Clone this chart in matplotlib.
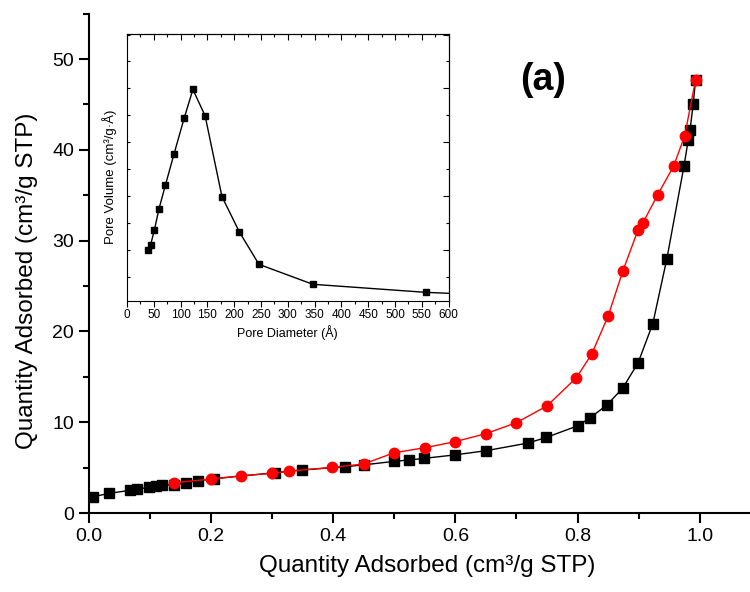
import matplotlib.pyplot as plt
from matplotlib.ticker import MultipleLocator

plt.rcParams['font.family'] = ['Liberation Sans', 'DejaVu Sans']

# adsorption branch (black squares)
adsX = [0.008, 0.034, 0.068, 0.080, 0.099, 0.110, 0.120, 0.140, 0.160, 0.179, 0.206,
        0.305, 0.350, 0.419, 0.450, 0.500, 0.524, 0.549, 0.599, 0.650, 0.719, 0.749,
        0.800, 0.820, 0.848, 0.874, 0.899, 0.923, 0.946, 0.974, 0.981, 0.984, 0.989, 0.993]
adsY = [1.8, 2.17, 2.5, 2.64, 2.83, 2.97, 3.08, 3.1, 3.34, 3.56, 3.78,
        4.44, 4.74, 5.1, 5.3, 5.69, 5.84, 6.02, 6.4, 6.86, 7.71, 8.33,
        9.6, 10.46, 11.9, 13.77, 16.55, 20.85, 28.0, 38.2, 41.1, 42.2, 45.0, 47.7]

# desorption branch (red circles)
desX = [0.993, 0.975, 0.957, 0.931, 0.907, 0.899, 0.874, 0.850, 0.823, 0.798, 0.750,
        0.700, 0.650, 0.599, 0.550, 0.500, 0.450, 0.399, 0.328, 0.300, 0.249, 0.200, 0.140]
desY = [47.7, 41.5, 38.2, 35.05, 31.97, 31.2, 26.65, 21.7, 17.5, 14.9, 11.8,
        9.95, 8.74, 7.85, 7.19, 6.64, 5.4, 5.03, 4.62, 4.37, 4.1, 3.74, 3.34]

# pore size distribution (inset), arbitrary volume units
poreD = [38.3, 44.0, 50.9, 59.7, 71.6, 88.0, 106.8, 123.0, 145.8, 177.2, 209.8, 246.3, 346.8, 557.9, 800.0]
poreV = [0.99, 1.09, 1.36, 1.76, 2.2, 2.79, 3.45, 3.98, 3.49, 1.99, 1.33, 0.73, 0.36, 0.21, 0.11]

fig = plt.figure(figsize=(7.5, 5.92), dpi=100)
ax = fig.add_axes([0.118, 0.1334, 0.882, 0.8436])
ax.plot(adsX, adsY, 'k-', marker='s', markersize=7.5, linewidth=1, zorder=2)
ax.plot(desX, desY, '-', color='red', marker='o', markersize=7.5, linewidth=1,
        markeredgecolor='red', zorder=3)
ax.set_xlim(0, 1.082)
ax.set_ylim(0, 55)
ax.spines['top'].set_visible(False)
ax.spines['right'].set_visible(False)
for s in ['left', 'bottom']:
    ax.spines[s].set_linewidth(1.5)
ax.xaxis.set_major_locator(MultipleLocator(0.2))
ax.xaxis.set_minor_locator(MultipleLocator(0.1))
ax.yaxis.set_major_locator(MultipleLocator(10))
ax.yaxis.set_minor_locator(MultipleLocator(5))
ax.xaxis.set_major_formatter(plt.FuncFormatter(lambda v, p: "%.1f" % v))
ax.tick_params(which='major', direction='out', length=7, width=1.5, labelsize=14)
ax.tick_params(which='minor', direction='out', length=4, width=1.5)
ax.set_xlabel("Quantity Adsorbed (cm³/g STP)", fontsize=17.5)
ax.set_ylabel("Quantity Adsorbed (cm³/g STP)", fontsize=17.5)
ax.xaxis.set_label_coords(0.512, -0.085)
ax.yaxis.set_label_coords(-0.077, 0.465)
ax.text(0.743, 47.7, "(a)", fontsize=27, fontweight='bold', ha='center', va='center')

ins = fig.add_axes([0.1693, 0.4916, 0.4288, 0.4518])
ins.plot(poreD, poreV, 'k-', marker='s', markersize=4.5, linewidth=1)
ins.set_xlim(0, 600)
ins.set_ylim(0.05, 5.02)
ins.xaxis.set_major_locator(MultipleLocator(50))
ins.xaxis.set_minor_locator(MultipleLocator(25))
ins.yaxis.set_major_locator(MultipleLocator(1))
ins.yaxis.set_minor_locator(MultipleLocator(0.5))
ins.tick_params(axis='x', which='both', direction='out', labelsize=8.5, width=0.8, pad=2)
ins.tick_params(axis='x', which='major', length=4)
ins.tick_params(axis='x', which='minor', length=2)
ins.tick_params(axis='y', which='both', direction='in', length=2.5, width=0.8, labelleft=False)

topx = ins.secondary_xaxis('top')
topx.xaxis.set_major_locator(MultipleLocator(50))
topx.xaxis.set_minor_locator(MultipleLocator(25))
topx.tick_params(which='both', direction='in', width=0.8, labeltop=False)
topx.tick_params(which='major', length=4)
topx.tick_params(which='minor', length=2)
righty = ins.secondary_yaxis('right')
righty.yaxis.set_major_locator(MultipleLocator(1))
righty.yaxis.set_minor_locator(MultipleLocator(0.5))
righty.tick_params(which='both', direction='in', width=0.8, labelright=False)
righty.tick_params(which='major', length=4)
righty.tick_params(which='minor', length=2)

ins.set_xlabel("Pore Diameter (Å)", fontsize=9, labelpad=3)
ins.set_ylabel("Pore Volume (cm³/g·Å)", fontsize=9.5)
ins.yaxis.set_label_coords(-0.03, 0.465)

fig.savefig("out.png", dpi=100)
